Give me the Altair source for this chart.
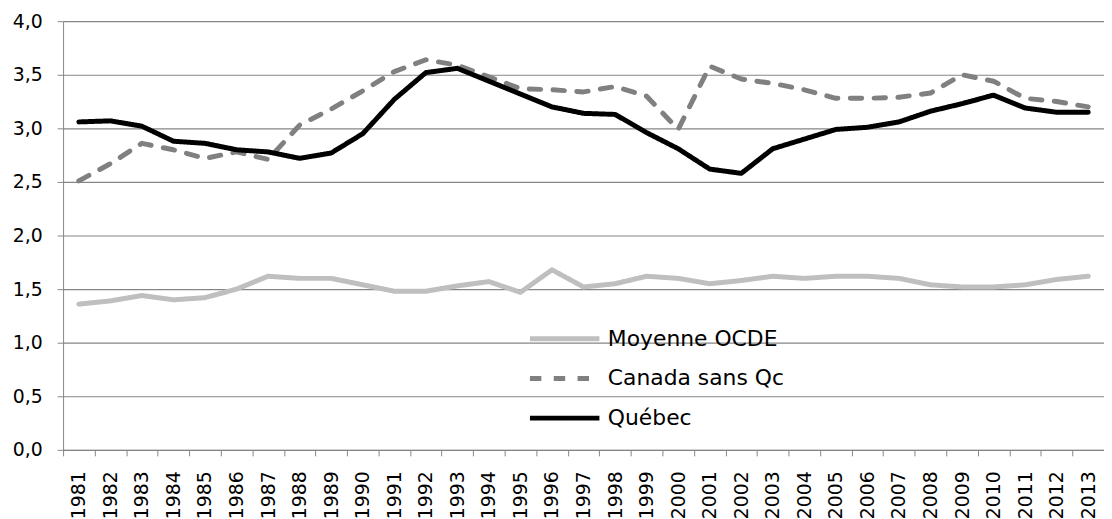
import altair as alt
import pandas as pd

years = [str(y) for y in range(1981, 2014)]
series_names = ["Moyenne OCDE", "Canada sans Qc", "Québec"]
ocde = [1.36, 1.39, 1.44, 1.40, 1.42, 1.50, 1.62, 1.60, 1.60, 1.54, 1.48, 1.48, 1.53, 1.57, 1.47,
        1.68, 1.52, 1.55, 1.62, 1.60, 1.55, 1.58, 1.62, 1.60, 1.62, 1.62, 1.60, 1.54, 1.52, 1.52,
        1.54, 1.59, 1.62]
canada = [2.51, 2.67, 2.86, 2.80, 2.72, 2.78, 2.71, 3.03, 3.18, 3.35, 3.53, 3.64, 3.59, 3.48, 3.37,
          3.36, 3.34, 3.39, 3.30, 2.99, 3.58, 3.46, 3.42, 3.36, 3.28, 3.28, 3.29, 3.33, 3.50, 3.44,
          3.28, 3.25, 3.20]
quebec = [3.06, 3.07, 3.02, 2.88, 2.86, 2.80, 2.78, 2.72, 2.77, 2.95, 3.27, 3.52, 3.56, 3.44, 3.32,
          3.20, 3.14, 3.13, 2.96, 2.81, 2.62, 2.58, 2.81, 2.90, 2.99, 3.01, 3.06, 3.16, 3.23, 3.31,
          3.19, 3.15, 3.15]
y_ticks = [0, 0.5, 1.0, 1.5, 2.0, 2.5, 3.0, 3.5, 4.0]

rows = []
for name, vals in zip(series_names, [ocde, canada, quebec]):
    for yr, v in zip(years, vals):
        rows.append({"Année": yr, "Série": name, "Valeur": v})
df = pd.DataFrame(rows)

FONT = "DejaVu Sans"
GRID = "#868686"

color = alt.Color(
    "Série:N",
    scale=alt.Scale(domain=series_names, range=["#BFBFBF", "#808080", "#000000"]),
    legend=alt.Legend(
        title=None, orient="none", legendX=468, legendY=309,
        symbolType="stroke", symbolSize=4900, symbolStrokeWidth=5,
        clipHeight=22, rowPadding=18, labelOffset=6, padding=0,
        labelFont=FONT, labelFontSize=22, labelColor="#000000", labelLimit=400,
    ),
)
dash = alt.StrokeDash(
    "Série:N",
    scale=alt.Scale(domain=series_names, range=[[1, 0], [11.5, 12.5], [1, 0]]),
    legend=None,
)

base = alt.Chart(df).encode(
    x=alt.X("Année:O", scale=alt.Scale(type="band", paddingInner=0, paddingOuter=0),
            axis=alt.Axis(title=None, labelAngle=270, labelAlign="right", labelBaseline="middle",
                          tickBand="extent", tickSize=6, labelPadding=15, domainColor=GRID,
                          tickColor=GRID, labelFont=FONT, labelFontSize=19, labelColor="#000000",
                          grid=False)),
    y=alt.Y("Valeur:Q", scale=alt.Scale(domain=[0, 4], nice=False),
            axis=alt.Axis(title=None, values=y_ticks,
                          labelExpr="replace(format(datum.value, '.1f'), '.', ',')",
                          tickSize=6, labelPadding=15, domainColor=GRID, tickColor=GRID,
                          gridColor=GRID, gridWidth=1.2, labelFont=FONT, labelFontSize=19,
                          labelColor="#000000")),
    color=color,
    strokeDash=dash,
)

layers = [
    base.transform_filter(alt.datum["Série"] == s).mark_line(strokeWidth=5, strokeCap="round", strokeJoin="round")
    for s in series_names
]

chart = alt.layer(*layers).properties(
    width=1049, height=432,
    autosize=alt.AutoSizeParams(type="none"),
    padding={"left": 55.5, "top": 11.3, "right": 0, "bottom": 70},
    background="white",
).configure_view(stroke=None)

chart.save("out.html", embed_options={"renderer": "svg", "actions": False})
